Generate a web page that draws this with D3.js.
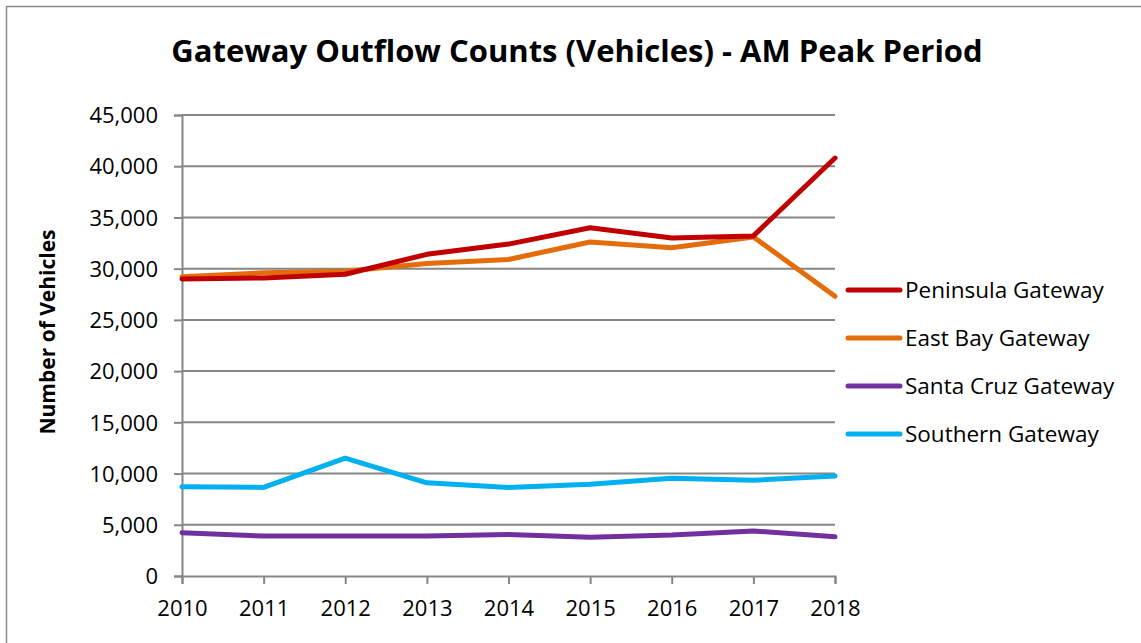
<!DOCTYPE html>
<html>
<head>
<meta charset="utf-8">
<script src="https://cdn.jsdelivr.net/npm/d3@7"></script>
<style>
  body { margin: 0; background: #fff; }
  svg text { font-family: "Open Sans", "Noto Sans", sans-serif; fill: #000; }
</style>
</head>
<body>
<svg width="1141" height="643"></svg>
<script>
var years = [2010, 2011, 2012, 2013, 2014, 2015, 2016, 2017, 2018]
var seriesNames = ["Peninsula Gateway", "East Bay Gateway", "Santa Cruz Gateway", "Southern Gateway"]
var peninsula = [29000, 29100, 29450, 31400, 32400, 34000, 33000, 33200, 40800]
var eastBay = [29200, 29600, 29750, 30500, 30900, 32600, 32050, 33100, 27300]
var santaCruz = [4230, 3900, 3900, 3900, 4050, 3780, 4000, 4400, 3830]
var southern = [8700, 8650, 11500, 9100, 8650, 8950, 9550, 9350, 9750]
var yTicks = [0, 5000, 10000, 15000, 20000, 25000, 30000, 35000, 40000, 45000]
var colors = ["#C00000", "#E46C0A", "#7030A0", "#00B0F0"]

var allSeries = [peninsula, eastBay, santaCruz, southern]

var svg = d3.select("svg")

// outer chart border
svg.append("rect")
    .attr("x", 6.5).attr("y", 6.5)
    .attr("width", 1160).attr("height", 660)
    .attr("fill", "none")
    .attr("stroke", "#898989")
    .attr("stroke-width", 1.5)

var x = d3.scalePoint().domain(years).range([182, 835])
var y = d3.scaleLinear().domain([0, 45000]).range([576, 115])

// grid lines
svg.append("g").selectAll("line")
    .data(yTicks.slice(1))
    .enter().append("line")
    .attr("x1", 182).attr("x2", 835)
    .attr("y1", d => y(d)).attr("y2", d => y(d))
    .attr("stroke", "#868686")
    .attr("stroke-width", 2)

var yAxis = svg.append("g")
    .attr("transform", "translate(182,0)")
    .call(d3.axisLeft(y).tickValues(yTicks).tickSize(8).tickPadding(16)
        .tickFormat(d3.format(",")))
var xAxis = svg.append("g")
    .attr("transform", "translate(0,576)")
    .call(d3.axisBottom(x).tickSize(8).tickPadding(16).tickFormat(d => d))

;[yAxis, xAxis].forEach(function(g) {
    g.selectAll(".domain").attr("stroke", "#868686").attr("stroke-width", 2)
    g.selectAll(".tick line").attr("stroke", "#868686").attr("stroke-width", 2)
    g.selectAll("text").style("font-size", "22px").attr("fill", "#000")
        .style("font-family", "'Open Sans', sans-serif")
})
yAxis.selectAll("text").attr("dy", "0.35em")

var line = d3.line()
    .x((d, i) => x(years[i]))
    .y(d => y(d))

svg.append("g").selectAll("path")
    .data(allSeries.slice().reverse())
    .enter().append("path")
    .attr("d", line)
    .attr("fill", "none")
    .attr("stroke", (d, i) => colors[allSeries.length - 1 - i])
    .attr("stroke-width", 5)
    .attr("stroke-linejoin", "round")
    .attr("stroke-linecap", "round")

// legend
var legend = svg.append("g")
var items = legend.selectAll("g")
    .data(seriesNames)
    .enter().append("g")
    .attr("transform", (d, i) => "translate(848," + (290 + i * 48) + ")")
items.append("line")
    .attr("x1", 0).attr("x2", 52)
    .attr("stroke", (d, i) => colors[i])
    .attr("stroke-width", 5)
    .attr("stroke-linecap", "round")
items.append("text")
    .attr("x", 57).attr("dy", "0.35em")
    .style("font-size", "22.5px")
    .text(d => d)

svg.append("text")
    .attr("x", 577).attr("y", 62)
    .attr("text-anchor", "middle")
    .style("font-size", "31px").style("font-weight", "bold")
    .text("Gateway Outflow Counts (Vehicles) - AM Peak Period")

svg.append("text")
    .attr("transform", "translate(55,332) rotate(-90)")
    .attr("text-anchor", "middle")
    .style("font-size", "21px").style("font-weight", "bold")
    .text("Number of Vehicles")
</script>
</body>
</html>
